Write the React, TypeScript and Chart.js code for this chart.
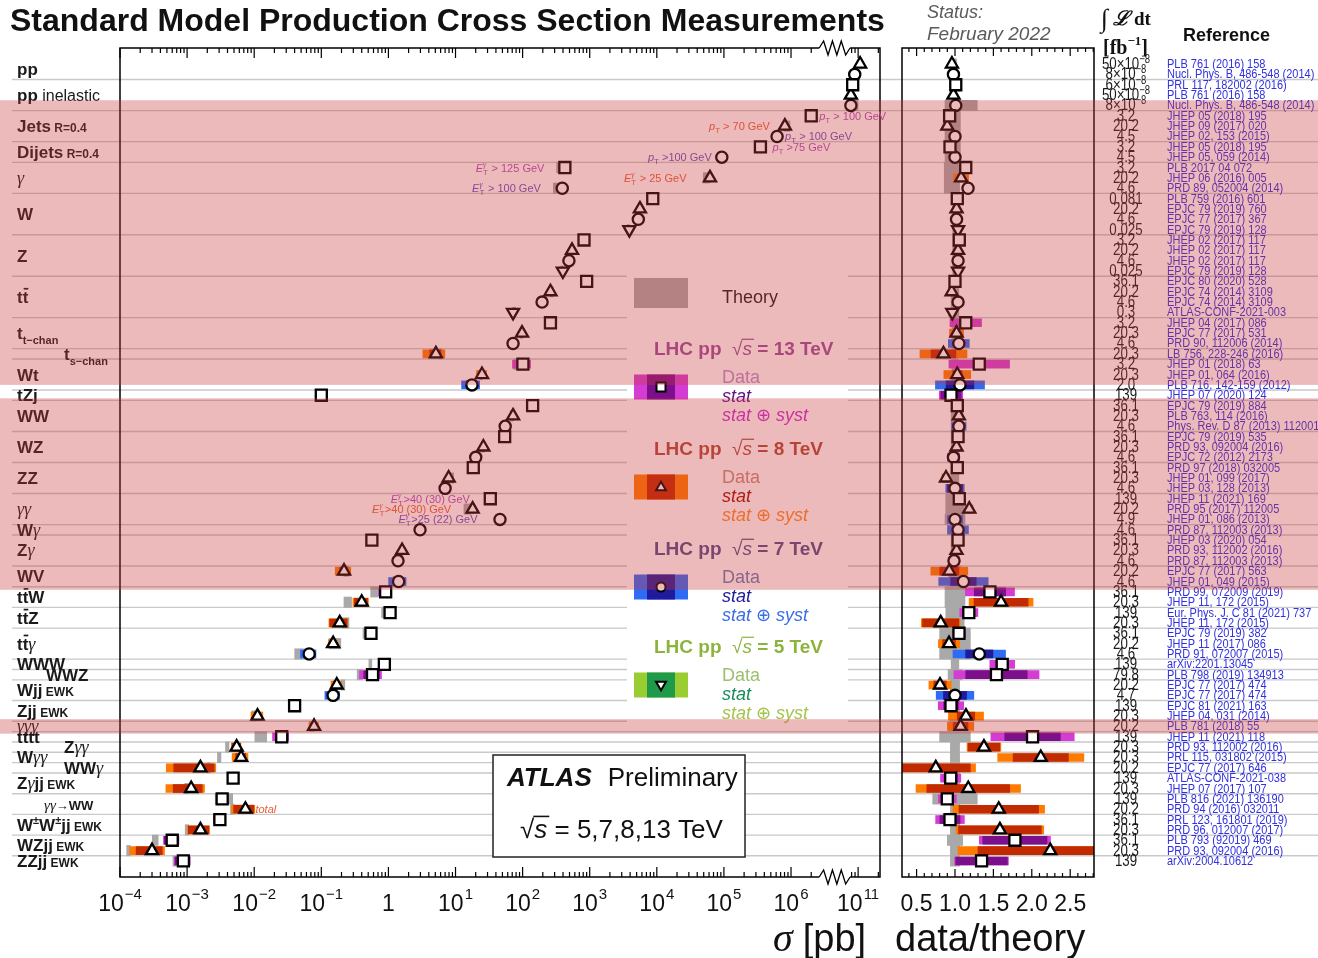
import React, { useEffect, useRef } from "react";
import { Chart, registerables } from "chart.js";

Chart.register(...registerables);

const W = 1318;
const H = 958;
const SANS = '"Liberation Sans", Arial, "DejaVu Sans", sans-serif';
const SERIF = '"Liberation Serif", "DejaVu Serif", serif';

// Plot frames on the page
const MAIN_BOX = { left: 120, right: 880, top: 48, bottom: 877 };
const RATIO_BOX = { left: 902, right: 1094, top: 48, bottom: 877 };
const ROW_MIN = -1.55;
const ROW_MAX = 78.55;
const MAIN_MIN = -4;
const MAIN_MAX = 7.326;
const RATIO_MIN = 0.31;
const RATIO_MAX = 2.81;
// decades removed by the axis break between 10^6 and 10^11
const BREAK_SHIFT = 4;
const LEGEND_AREA = { left: 627, right: 848, top: 268, bottom: 727 };

// ---------------- measurements, one entry per row, top to bottom ----------------
// centre-of-mass energy [TeV]
const energies = [
  8, 7, 13, 8, 7,
  13, 8, 7,
  13, 7,
  13, 8, 7,
  13, 8, 7, 5,
  13, 8, 7, 5,
  13, 8, 7, 5,
  13, 8, 7,
  8,
  13, 8, 7,
  13,
  13, 8, 7,
  13, 8, 7,
  13, 8, 7,
  13, 8, 7,
  7,
  13, 8, 7,
  8, 7,
  13, 8,
  13, 8,
  13, 8, 7,
  13,
  13,
  8, 7,
  13, 8,
  8,
  13,
  8,
  8,
  8,
  13, 8,
  13, 8,
  13, 8,
  13, 8,
  13,
];

// measured cross section [pb]
const crossSections = [
  1.07e11, 8.9e10, 8.3e10, 7.8e10, 7.8e10,
  2.0e6, 8.1e5, 6.2e5,
  3.5e5, 9.3e4,
  426, 6.2e4, 390,
  8700, 5600, 5300, 3900,
  822, 545, 490, 398,
  900, 260, 195, 72,
  260, 98, 72,
  5.1,
  101, 24.8, 17.6,
  0.1,
  141, 72, 55,
  54, 26, 20,
  18.4, 7.9, 7.0,
  33, 18, 46,
  2.96,
  0.567, 1.6, 1.39,
  0.218, 1.42,
  0.91, 0.4,
  1.06, 0.188,
  0.55, 0.15, 0.066,
  0.87,
  0.58,
  0.17, 0.15,
  0.04, 0.0112,
  0.078,
  0.0257,
  0.00547,
  0.00638,
  0.00158,
  0.00485, 0.00115,
  0.00333, 0.0074,
  0.00308, 0.00158,
  0.0006, 0.0003,
  0.00088,
];

// data / theory
const dataOverTheory = [
  0.96, 0.98, 1.01, 0.98, 1.01,
  0.93, 0.9, 1.0,
  0.935, 1.0,
  1.14, 1.08, 1.17,
  1.03, 1.02, 1.02, 1.04,
  1.056, 1.04, 1.04, 1.04,
  1.0, 0.957, 1.04, 0.965,
  1.14, 1.02, 1.05,
  0.85,
  1.316, 1.03, 1.065,
  0.948,
  1.03, 1.05, 1.05,
  1.04, 1.02, 0.98,
  1.03, 0.883, 1.0,
  1.056, 1.186, 1.0,
  1.04,
  1.04, 1.02, 0.987,
  0.926, 1.11,
  1.455, 1.6,
  1.18, 0.814,
  1.052, 0.922, 1.316,
  1.615,
  1.54,
  0.805, 1.0,
  0.948, 1.143,
  1.073,
  2.01,
  1.377,
  2.117,
  0.75,
  0.944, 1.173,
  0.9, 1.57,
  0.935, 1.585,
  1.78, 2.24,
  1.346,
];

// relative statistical uncertainty
const statErr = [
  0.005, 0.005, 0.005, 0.005, 0.005,
  0.01, 0.01, 0.01,
  0.01, 0.01,
  0.01, 0.02, 0.01,
  0.005, 0.005, 0.005, 0.01,
  0.005, 0.005, 0.005, 0.01,
  0.01, 0.01, 0.01, 0.02,
  0.03, 0.02, 0.03,
  0.19,
  0.04, 0.06, 0.17,
  0.14,
  0.02, 0.02, 0.03,
  0.02, 0.02, 0.04,
  0.03, 0.04, 0.1,
  0.01, 0.01, 0.02,
  0.03,
  0.01, 0.02, 0.03,
  0.135, 0.15,
  0.14, 0.22,
  0.05, 0.29,
  0.02, 0.09, 0.135,
  0.05,
  0.26,
  0.1, 0.15,
  0.1, 0.1,
  0.09,
  0.18,
  0.15,
  0.17,
  0.6,
  0.09, 0.46,
  0.09, 0.33,
  0.14, 0.34,
  0.235, 0.42,
  0.25,
];

// relative total (stat ⊕ syst) uncertainty
const totalErr = [
  0.01, 0.01, 0.02, 0.02, 0.02,
  0.06, 0.06, 0.05,
  0.06, 0.05,
  0.05, 0.09, 0.05,
  0.02, 0.02, 0.02, 0.03,
  0.025, 0.02, 0.02, 0.03,
  0.04, 0.04, 0.04, 0.05,
  0.18, 0.09, 0.13,
  0.36,
  0.3, 0.17, 0.3,
  0.16,
  0.06, 0.05, 0.09,
  0.04, 0.04, 0.08,
  0.05, 0.06, 0.12,
  0.05, 0.04, 0.1,
  0.13,
  0.04, 0.05, 0.07,
  0.26, 0.29,
  0.22, 0.26,
  0.1, 0.31,
  0.08, 0.15, 0.26,
  0.1,
  0.36,
  0.18, 0.245,
  0.175, 0.2,
  0.16,
  0.27,
  0.16,
  0.265,
  0.69,
  0.14, 0.58,
  0.13, 0.38,
  0.2, 0.36,
  0.26, 0.536,
  0.26,
];

// relative theory uncertainty, downward / upward
const theoryLo = [
  0.02, 0.02, 0.02, 0.02, 0.13,
  0.13, 0.13, 0.13,
  0.13, 0.13,
  0.14, 0.14, 0.14,
  0.03, 0.03, 0.03, 0.03,
  0.03, 0.03, 0.03, 0.03,
  0.05, 0.05, 0.05, 0.05,
  0.04, 0.04, 0.04,
  0.04,
  0.04, 0.04, 0.04,
  0.1,
  0.05, 0.05, 0.05,
  0.05, 0.05, 0.05,
  0.05, 0.05, 0.05,
  0.12, 0.12, 0.13,
  0.1,
  0.05, 0.05, 0.05,
  0.08, 0.08,
  0.13, 0.13,
  0.12, 0.12,
  0.2, 0.2, 0.2,
  0.05,
  0.09,
  0.06, 0.06,
  0.06, 0.06,
  0.08,
  0.2,
  0.06,
  0.06,
  0.06,
  0.06, 0.06,
  0.29, 0.06,
  0.06, 0.06,
  0.1, 0.06,
  0.06,
];
const theoryHi = [
  0.02, 0.02, 0.02, 0.02, 0.29,
  0.07, 0.07, 0.07,
  0.07, 0.07,
  0.06, 0.06, 0.06,
  0.03, 0.03, 0.03, 0.03,
  0.03, 0.03, 0.03, 0.03,
  0.05, 0.05, 0.05, 0.05,
  0.04, 0.04, 0.04,
  0.04,
  0.04, 0.04, 0.04,
  0.1,
  0.05, 0.05, 0.05,
  0.05, 0.05, 0.05,
  0.05, 0.05, 0.05,
  0.12, 0.12, 0.13,
  0.1,
  0.05, 0.05, 0.05,
  0.08, 0.08,
  0.13, 0.13,
  0.12, 0.12,
  0.2, 0.2, 0.2,
  0.05,
  0.09,
  0.06, 0.06,
  0.06, 0.06,
  0.08,
  0.2,
  0.06,
  0.06,
  0.06,
  0.06, 0.06,
  0.29, 0.06,
  0.06, 0.06,
  0.1, 0.06,
  0.06,
];

// integrated luminosity [fb^-1]
const lumiLabels = [
  "50×10^−8", "8×10^−8", "6×10^−8", "50×10^−8", "8×10^−8",
  "3.2", "20.2", "4.5",
  "3.2", "4.5",
  "3.2", "20.2", "4.6",
  "0.081", "20.2", "4.6", "0.025",
  "3.2", "20.2", "4.6", "0.025",
  "36.1", "20.2", "4.6", "0.3",
  "3.2", "20.3", "4.6",
  "20.3",
  "3.2", "20.3", "2.0",
  "139",
  "36.1", "20.3", "4.6",
  "36.1", "20.3", "4.6",
  "36.1", "20.3", "4.6",
  "139", "20.2", "4.9",
  "4.6",
  "36.1", "20.3", "4.6",
  "20.2", "4.6",
  "36.1", "20.3",
  "139", "20.3",
  "36.1", "20.2", "4.6",
  "139",
  "79.8",
  "20.2", "4.7",
  "139", "20.3",
  "20.2",
  "139",
  "20.3",
  "20.3",
  "20.2",
  "139", "20.3",
  "139", "20.2",
  "36.1", "20.3",
  "36.1", "20.3",
  "139",
];

const references = [
  "PLB 761 (2016) 158", "Nucl. Phys. B, 486-548 (2014)", "PRL 117, 182002 (2016)", "PLB 761 (2016) 158", "Nucl. Phys. B, 486-548 (2014)",
  "JHEP 05 (2018) 195", "JHEP 09 (2017) 020", "JHEP 02, 153 (2015)",
  "JHEP 05 (2018) 195", "JHEP 05, 059 (2014)",
  "PLB 2017 04 072", "JHEP 06 (2016) 005", "PRD 89, 052004 (2014)",
  "PLB 759 (2016) 601", "EPJC 79 (2019) 760", "EPJC 77 (2017) 367", "EPJC 79 (2019) 128",
  "JHEP 02 (2017) 117", "JHEP 02 (2017) 117", "JHEP 02 (2017) 117", "EPJC 79 (2019) 128",
  "EPJC 80 (2020) 528", "EPJC 74 (2014) 3109", "EPJC 74 (2014) 3109", "ATLAS-CONF-2021-003",
  "JHEP 04 (2017) 086", "EPJC 77 (2017) 531", "PRD 90, 112006 (2014)",
  "LB 756, 228-246 (2016)",
  "JHEP 01 (2018) 63", "JHEP 01, 064 (2016)", "PLB 716, 142-159 (2012)",
  "JHEP 07 (2020) 124",
  "EPJC 79 (2019) 884", "PLB 763, 114 (2016)", "Phys. Rev. D 87 (2013) 112001",
  "EPJC 79 (2019) 535", "PRD 93, 092004 (2016)", "EPJC 72 (2012) 2173",
  "PRD 97 (2018) 032005", "JHEP 01, 099 (2017)", "JHEP 03, 128 (2013)",
  "JHEP 11 (2021) 169", "PRD 95 (2017) 112005", "JHEP 01, 086 (2013)",
  "PRD 87, 112003 (2013)",
  "JHEP 03 (2020) 054", "PRD 93, 112002 (2016)", "PRD 87, 112003 (2013)",
  "EPJC 77 (2017) 563", "JHEP 01, 049 (2015)",
  "PRD 99, 072009 (2019)", "JHEP 11, 172 (2015)",
  "Eur. Phys. J. C 81 (2021) 737", "JHEP 11, 172 (2015)",
  "EPJC 79 (2019) 382", "JHEP 11 (2017) 086", "PRD 91, 072007 (2015)",
  "arXiv:2201.13045",
  "PLB 798 (2019) 134913",
  "EPJC 77 (2017) 474", "EPJC 77 (2017) 474",
  "EPJC 81 (2021) 163", "JHEP 04, 031 (2014)",
  "PLB 781 (2018) 55",
  "JHEP 11 (2021) 118",
  "PRD 93, 112002 (2016)",
  "PRL 115, 031802 (2015)",
  "EPJC 77 (2017) 646",
  "ATLAS-CONF-2021-038", "JHEP 07 (2017) 107",
  "PLB 816 (2021) 136190", "PRD 94 (2016) 032011",
  "PRL 123, 161801 (2019)", "PRD 96, 012007 (2017)",
  "PLB 793 (92019) 469", "PRD 93, 092004 (2016)",
  "arXiv:2004.10612",
];

// processes: first and last row of each
const processRows = [
  [0, 1], [2, 4], [5, 7], [8, 9], [10, 12], [13, 16], [17, 20], [21, 24], [25, 27], [28, 28],
  [29, 31], [32, 32], [33, 35], [36, 38], [39, 41], [42, 44], [45, 45], [46, 48], [49, 50],
  [51, 52], [53, 54], [55, 57], [58, 58], [59, 59], [60, 61], [62, 63], [64, 64], [65, 65],
  [66, 66], [67, 67], [68, 68], [69, 70], [71, 72], [73, 74], [75, 76], [77, 77],
];

// process names as styled text runs
const processLabels = [
  [["pp", "b"]],
  [["pp", "b"], [" inelastic", "r"]],
  [["Jets", "b"], [" R=0.4", "s"]],
  [["Dijets", "b"], [" R=0.4", "s"]],
  [["γ", "g"]],
  [["W", "b"]],
  [["Z", "b"]],
  [["t", "b"], ["t", "o"]],
  [["t", "b"], ["t−chan", "u"]],
  [["t", "b"], ["s−chan", "u"]],
  [["Wt", "b"]],
  [["tZj", "b"]],
  [["WW", "b"]],
  [["WZ", "b"]],
  [["ZZ", "b"]],
  [["γγ", "g"]],
  [["W", "b"], ["γ", "g"]],
  [["Z", "b"], ["γ", "g"]],
  [["WV", "b"]],
  [["t", "b"], ["t", "o"], ["W", "b"]],
  [["t", "b"], ["t", "o"], ["Z", "b"]],
  [["t", "b"], ["t", "o"], ["γ", "g"]],
  [["WWW", "b"]],
  [["WWZ", "b"]],
  [["Wjj", "b"], [" EWK", "s"]],
  [["Zjj", "b"], [" EWK", "s"]],
  [["γγγ", "g"]],
  [["tttt", "b"]],
  [["Z", "b"], ["γγ", "g"]],
  [["W", "b"], ["γγ", "g"]],
  [["WW", "b"], ["γ", "g"]],
  [["Z", "b"], ["γ", "g"], ["jj", "b"], [" EWK", "s"]],
  [["γγ", "gs"], ["→WW", "bs"]],
  [["W", "b"], ["±", "p"], ["W", "b"], ["±", "p"], ["jj", "b"], [" EWK", "s"]],
  [["WZjj", "b"], [" EWK", "s"]],
  [["ZZjj", "b"], [" EWK", "s"]],
];

// rows highlighted by shaded bands (row units)
const highlightBands = [
  [3.5, 31.0],
  [32.3, 50.8],
  [63.3, 64.7],
];

// phase-space notes written next to some measurements
const cutNotes = [
  { row: 5, side: "right", parts: [["p", "i"], ["T", "sub"], [" > 100 GeV", "n"]] },
  { row: 6, side: "left", parts: [["p", "i"], ["T", "sub"], [" > 70 GeV", "n"]] },
  { row: 7, side: "right", parts: [["p", "i"], ["T", "sub"], [" > 100 GeV", "n"]] },
  { row: 8, side: "right", parts: [["p", "i"], ["T", "sub"], [" >75 GeV", "n"]] },
  { row: 9, side: "left", parts: [["p", "i"], ["T", "sub"], [" >100 GeV", "n"]] },
  { row: 10, side: "left", parts: [["E", "i"], ["T", "subsup"], [" > 125 GeV", "n"]] },
  { row: 11, side: "left", parts: [["E", "i"], ["T", "subsup"], [" > 25 GeV", "n"]] },
  { row: 12, side: "left", parts: [["E", "i"], ["T", "subsup"], [" > 100 GeV", "n"]] },
  { row: 42, side: "left", parts: [["E", "i"], ["T", "subsup"], [">40 (30) GeV", "n"]] },
  { row: 43, side: "left", parts: [["E", "i"], ["T", "subsup"], [">40 (30) GeV", "n"]] },
  { row: 44, side: "left", parts: [["E", "i"], ["T", "subsup"], [">25 (22) GeV", "n"]] },
  { row: 72, side: "right", parts: [["total", "i"]] },
];

const mainTickPowers = [-4, -3, -2, -1, 0, 1, 2, 3, 4, 5, 6, 11];
const ratioTickLabels = ["0.5", "1.0", "1.5", "2.0", "2.5"];
const legendEnergies = [13, 8, 7, 5];

// ---------------- styles ----------------
const energyStyle: any = {
  13: { tot: "#d43cd4", stat: "#7c0f8a", point: "rect", radius: 7.8, rotation: 0, head: "#9a4ea0", dataText: "#b890d0", statText: "#66108a", totText: "#cc30d8", note: "#b050c0" },
  8: { tot: "#ff7b00", stat: "#c22a00", point: "triangle", radius: 7, rotation: 0, head: "#b04a3a", dataText: "#c88a7b", statText: "#a01000", totText: "#ff8a2a", note: "#e8603a" },
  7: { tot: "#2f6cf5", stat: "#1f1b9c", point: "circle", radius: 5.6, rotation: 0, head: "#4d4d8a", dataText: "#6c7bb9", statText: "#1c1c9a", totText: "#3a6ee8", note: "#6c4dc8" },
  5: { tot: "#9acd32", stat: "#1f9a4a", point: "triangle", radius: 7, rotation: 180, head: "#8cb43c", dataText: "#9cc070", statText: "#1a8c5a", totText: "#a4c44a", note: "#7aa030" },
};
const THEORY_GREY = "#a9a9a9";
const BAND_FILL = "rgba(200, 57, 57, 0.35)";
const LINE_GREY = "#c9c9c9";

const labelFonts: any = {
  b: { font: `bold 17px ${SANS}`, dy: 0 },
  o: { font: `bold 17px ${SANS}`, dy: 0 },
  r: { font: `16px ${SANS}`, dy: 0 },
  s: { font: `bold 12px ${SANS}`, dy: 0 },
  g: { font: `italic 18px ${SERIF}`, dy: 0 },
  u: { font: `bold 11px ${SANS}`, dy: 5 },
  p: { font: `bold 11px ${SANS}`, dy: -7 },
  gs: { font: `italic 15px ${SERIF}`, dy: 0 },
  bs: { font: `bold 13px ${SANS}`, dy: 0 },
};
const labelIndent: any = { 9: 64, 23: 46, 28: 64, 30: 64, 32: 44 };
const noteGaps = [8, 15, 8, 12, 10, 20, 23, 21, 20, 21, 22, 10];

// cross section -> horizontal position in decades, with the axis break
function axisPos(sigma: number) {
  const l = Math.log10(sigma);
  return l > 8 ? l - BREAK_SHIFT : l;
}

function buildDatasets(kind: "main" | "ratio") {
  const rows = energies.map((_, i) => i);
  const centre = (i: number) => (kind === "main" ? crossSections[i] : dataOverTheory[i]);
  const xv = (v: number) => (kind === "main" ? axisPos(v) : v);
  const theoryCentre = (i: number) => (kind === "main" ? crossSections[i] / dataOverTheory[i] : 1);
  const bar = (label: string, data: any[], colors: any, thickness: number, order: number) => ({
    type: "bar",
    label,
    data,
    backgroundColor: colors,
    borderWidth: 0,
    barThickness: thickness,
    grouped: false,
    indexAxis: "y",
    xAxisID: "x",
    yAxisID: "y",
    order,
  });
  const theory = rows.map((i) => ({
    x: [xv(theoryCentre(i) * (1 - theoryLo[i])), xv(theoryCentre(i) * (1 + theoryHi[i]))],
    y: i,
  }));
  const tot = rows.map((i) => ({ x: [xv(centre(i) * (1 - totalErr[i])), xv(centre(i) * (1 + totalErr[i]))], y: i }));
  const stat = rows.map((i) => ({ x: [xv(centre(i) * (1 - statErr[i])), xv(centre(i) * (1 + statErr[i]))], y: i }));
  const markers = legendEnergies.map((e) => {
    const st = energyStyle[e];
    return {
      type: "scatter",
      label: `${e} TeV`,
      data: rows.filter((i) => energies[i] === e).map((i) => ({ x: xv(centre(i)), y: i })),
      pointStyle: st.point,
      pointRadius: st.radius,
      pointRotation: st.rotation,
      pointBackgroundColor: "#ffffff",
      pointBorderColor: "#000000",
      pointBorderWidth: 2.3,
      showLine: false,
      xAxisID: "x",
      yAxisID: "y",
      order: 0,
    };
  });
  return [
    bar("theory", theory, THEORY_GREY, 10.4, 3),
    bar("stat ⊕ syst", tot, rows.map((i) => energyStyle[energies[i]].tot), 8, 2),
    bar("stat", stat, rows.map((i) => energyStyle[energies[i]].stat), 8, 1),
    ...markers,
  ];
}

// ---------------- drawing helpers ----------------
function drawParts(ctx: any, parts: any[], x: number, y: number) {
  let cx = x;
  for (const [t, st] of parts) {
    const f = labelFonts[st];
    ctx.font = f.font;
    ctx.fillText(t, cx, y + f.dy);
    const w = ctx.measureText(t).width;
    if (st === "o") ctx.fillRect(cx + 1, y - 15, w - 1, 1.7);
    cx += w;
  }
  return cx - x;
}

function measureNote(ctx: any, parts: any[]) {
  let w = 0;
  for (const [t, st] of parts) {
    if (st === "n") ctx.font = `11px ${SANS}`;
    else if (st === "i") ctx.font = `italic 11px ${SANS}`;
    else ctx.font = `8px ${SANS}`;
    w += ctx.measureText(t).width + (st === "subsup" ? 1 : 0);
  }
  return w;
}

function drawNote(ctx: any, parts: any[], x: number, y: number) {
  let cx = x;
  for (const [t, st] of parts) {
    if (st === "n" || st === "i") {
      ctx.font = st === "n" ? `11px ${SANS}` : `italic 11px ${SANS}`;
      ctx.fillText(t, cx, y);
      cx += ctx.measureText(t).width;
    } else if (st === "sub") {
      ctx.font = `8px ${SANS}`;
      ctx.fillText(t, cx, y + 3);
      cx += ctx.measureText(t).width;
    } else {
      ctx.font = `8px ${SANS}`;
      ctx.fillText(t, cx, y + 3);
      ctx.font = `italic 8px ${SERIF}`;
      ctx.fillText("γ", cx, y - 5);
      cx += ctx.measureText(t).width + 1;
    }
  }
}

function drawSqrtS(ctx: any, x: number, y: number, size: number, weight: string) {
  ctx.font = `${size}px ${SANS}`;
  ctx.fillText("√", x, y);
  const wr = ctx.measureText("√").width;
  ctx.font = `italic ${size}px ${SANS}`;
  ctx.fillText("s", x + wr, y);
  const ws = ctx.measureText("s").width;
  ctx.fillRect(x + wr - 1, y - size * 0.86, ws + 3, Math.max(1.2, size * 0.06));
  ctx.font = `${weight} ${size}px ${SANS}`;
  return x + wr + ws;
}

function drawLegendMarker(ctx: any, e: number, x: number, y: number, s: number) {
  ctx.save();
  ctx.fillStyle = "#fff";
  ctx.strokeStyle = "#000";
  ctx.lineWidth = 2;
  ctx.beginPath();
  if (e === 13) ctx.rect(x - s, y - s, 2 * s, 2 * s);
  else if (e === 7) ctx.arc(x, y, s, 0, Math.PI * 2);
  else {
    const d = e === 5 ? -1 : 1;
    ctx.moveTo(x, y - d * s * 1.15);
    ctx.lineTo(x + s * 1.1, y + d * s * 0.7);
    ctx.lineTo(x - s * 1.1, y + d * s * 0.7);
    ctx.closePath();
  }
  ctx.fill();
  ctx.stroke();
  ctx.restore();
}

function drawZigzag(ctx: any, x1: number, x2: number, y: number) {
  ctx.fillStyle = "#fff";
  ctx.fillRect(x1, y - 2, x2 - x1, 4);
  ctx.beginPath();
  const n = 7;
  for (let k = 0; k <= n; k++) {
    const px = x1 + ((x2 - x1) * k) / n;
    const py = k === 0 || k === n ? y : y + (k % 2 ? -7 : 7);
    if (k === 0) ctx.moveTo(px, py);
    else ctx.lineTo(px, py);
  }
  ctx.strokeStyle = "#000";
  ctx.lineWidth = 1.3;
  ctx.stroke();
}

// ---------------- main panel decorations ----------------
const mainDecor = {
  id: "mainDecor",
  beforeDatasetsDraw(chart: any) {
    const { ctx } = chart;
    const ys = chart.scales.y;
    ctx.save();
    ctx.strokeStyle = LINE_GREY;
    ctx.lineWidth = 1.4;
    for (let g = 0; g < processRows.length - 1; g++) {
      const yy = ys.getPixelForValue(processRows[g][1] + 0.5);
      ctx.beginPath();
      ctx.moveTo(12, yy);
      if (yy > LEGEND_AREA.top && yy < LEGEND_AREA.bottom) {
        ctx.lineTo(LEGEND_AREA.left, yy);
        ctx.moveTo(LEGEND_AREA.right, yy);
      }
      ctx.lineTo(W, yy);
      ctx.stroke();
    }
    ctx.restore();
  },
  afterDatasetsDraw(chart: any) {
    const { ctx, chartArea: ca } = chart;
    const xs = chart.scales.x;
    const ys = chart.scales.y;
    ctx.save();
    ctx.textBaseline = "alphabetic";
    ctx.textAlign = "left";

    // legend
    ctx.fillStyle = THEORY_GREY;
    ctx.fillRect(634, 278, 54, 30);
    ctx.fillStyle = "#1a1a1a";
    ctx.font = `18px ${SANS}`;
    ctx.fillText("Theory", 722, 303);
    const headY = [348, 448, 548, 646];
    legendEnergies.forEach((e, k) => {
      const st = energyStyle[e];
      const hy = headY[k];
      const base = hy + 7;
      ctx.fillStyle = st.head;
      ctx.font = `bold 19px ${SANS}`;
      ctx.fillText("LHC pp  ", 654, base);
      let x = 654 + ctx.measureText("LHC pp  ").width;
      x = drawSqrtS(ctx, x, base, 19, "bold");
      ctx.font = `bold 19px ${SANS}`;
      ctx.fillText(` = ${e} TeV`, x, base);
      const by = hy + 39;
      ctx.fillStyle = st.tot;
      ctx.fillRect(634, by - 12.5, 54, 25);
      ctx.fillStyle = st.stat;
      ctx.fillRect(647, by - 12.5, 28, 25);
      drawLegendMarker(ctx, e, 661, by, 4.5);
      ctx.font = `18px ${SANS}`;
      ctx.fillStyle = st.dataText;
      ctx.fillText("Data", 722, hy + 35);
      ctx.font = `italic 18px ${SANS}`;
      ctx.fillStyle = st.statText;
      ctx.fillText("stat", 722, hy + 54);
      ctx.fillStyle = st.totText;
      ctx.fillText("stat ⊕ syst", 722, hy + 73);
    });

    // ATLAS label box
    ctx.fillStyle = "#fff";
    ctx.fillRect(493, 755, 252, 102);
    ctx.strokeStyle = "#222";
    ctx.lineWidth = 1.5;
    ctx.strokeRect(493, 755, 252, 102);
    ctx.fillStyle = "#111";
    ctx.font = `italic bold 26px ${SANS}`;
    ctx.fillText("ATLAS", 507, 786);
    const aw = ctx.measureText("ATLAS").width;
    ctx.font = `26px ${SANS}`;
    ctx.fillText("Preliminary", 507 + aw + 16, 786);
    const sx = drawSqrtS(ctx, 520, 838, 26, "");
    ctx.font = `26px ${SANS}`;
    ctx.fillText(" = 5,7,8,13 TeV", sx, 838);

    // frame, ticks and axis break
    ctx.strokeStyle = "#000";
    ctx.lineWidth = 1.5;
    ctx.strokeRect(ca.left, ca.top, ca.right - ca.left, ca.bottom - ca.top);
    const majors = mainTickPowers.map((p) => (p > 8 ? p - BREAK_SHIFT : p));
    const minors: number[] = [];
    for (let d = -4; d <= 5; d++) for (let k = 2; k <= 9; k++) minors.push(d + Math.log10(k));
    minors.push(6 + Math.log10(2), 6 + Math.log10(8), 6 + Math.log10(9), 7 + Math.log10(2));
    ctx.lineWidth = 1.2;
    ctx.beginPath();
    const tick = (v: number, len: number) => {
      const px = xs.getPixelForValue(v);
      ctx.moveTo(px, ca.bottom);
      ctx.lineTo(px, ca.bottom - len);
      ctx.moveTo(px, ca.top);
      ctx.lineTo(px, ca.top + len);
    };
    majors.forEach((v) => tick(v, 10));
    minors.forEach((v) => tick(v, 5));
    ctx.stroke();
    const b1 = xs.getPixelForValue(6.42);
    const b2 = xs.getPixelForValue(6.88);
    drawZigzag(ctx, b1, b2, ca.top);
    drawZigzag(ctx, b1, b2, ca.bottom);

    // tick labels
    ctx.fillStyle = "#111";
    mainTickPowers.forEach((p, k) => {
      const px = xs.getPixelForValue(majors[k]);
      const base = p === 0 ? "1" : "10";
      const exp = p === 0 ? "" : p < 0 ? `−${-p}` : `${p}`;
      ctx.font = `23px ${SANS}`;
      const wb = ctx.measureText(base).width;
      ctx.font = `15px ${SANS}`;
      const we = exp ? ctx.measureText(exp).width + 1 : 0;
      const x0 = px - (wb + we) / 2;
      ctx.font = `23px ${SANS}`;
      ctx.fillText(base, x0, 911);
      if (exp) {
        ctx.font = `15px ${SANS}`;
        ctx.fillText(exp, x0 + wb + 1, 899);
      }
    });
    ctx.font = `italic 40px ${SERIF}`;
    ctx.fillText("σ", 773, 951);
    const sw = ctx.measureText("σ").width;
    ctx.font = `38px ${SANS}`;
    ctx.fillText("[pb]", 773 + sw + 10, 951);

    // title
    ctx.font = `bold 32px ${SANS}`;
    const title = "Standard Model Production Cross Section Measurements";
    const tw = ctx.measureText(title).width;
    ctx.font = `bold ${(32 * 875) / tw}px ${SANS}`;
    ctx.fillText(title, 10, 31);

    // process names
    ctx.fillStyle = "#1a1a1a";
    processLabels.forEach((parts, g) => {
      const [r0, r1] = processRows[g];
      const yc = ys.getPixelForValue((r0 + r1) / 2);
      drawParts(ctx, parts, labelIndent[g] ?? 17, yc + 6);
    });

    // phase-space notes
    cutNotes.forEach((n, k) => {
      const i = n.row;
      const px = xs.getPixelForValue(axisPos(crossSections[i]));
      const py = ys.getPixelForValue(i) + 4;
      ctx.fillStyle = energyStyle[energies[i]].note;
      const w = measureNote(ctx, n.parts);
      const x0 = n.side === "right" ? px + noteGaps[k] : px - noteGaps[k] - w;
      drawNote(ctx, n.parts, x0, py);
    });
    ctx.restore();
  },
};

// ---------------- ratio panel, table and highlight bands ----------------
const ratioDecor = {
  id: "ratioDecor",
  afterDraw(chart: any) {
    const { ctx, chartArea: ca } = chart;
    const xs = chart.scales.x;
    const ys = chart.scales.y;
    ctx.save();
    ctx.textBaseline = "alphabetic";
    ctx.textAlign = "left";

    ctx.strokeStyle = "#000";
    ctx.lineWidth = 1.5;
    ctx.strokeRect(ca.left, ca.top, ca.right - ca.left, ca.bottom - ca.top);
    ctx.lineWidth = 1.2;
    ctx.beginPath();
    for (let k = 4; k <= 28; k++) {
      const px = xs.getPixelForValue(k / 10);
      const len = k % 5 === 0 ? 8 : 4;
      ctx.moveTo(px, ca.bottom);
      ctx.lineTo(px, ca.bottom - len);
      ctx.moveTo(px, ca.top);
      ctx.lineTo(px, ca.top + len);
    }
    ctx.stroke();

    ctx.fillStyle = "#111";
    ctx.font = `23px ${SANS}`;
    ctx.textAlign = "center";
    ratioTickLabels.forEach((t) => ctx.fillText(t, xs.getPixelForValue(parseFloat(t)), 911));
    ctx.textAlign = "left";
    ctx.font = `38px ${SANS}`;
    ctx.fillText("data/theory", 895, 951);

    // status
    ctx.fillStyle = "#5a5a5a";
    ctx.font = `italic 18px ${SANS}`;
    ctx.fillText("Status:", 927, 18);
    ctx.font = `italic 19px ${SANS}`;
    ctx.fillText("February 2022", 927, 40);

    // table headers
    ctx.fillStyle = "#111";
    ctx.font = `italic 26px ${SERIF}`;
    ctx.fillText("∫", 1101, 27);
    ctx.font = `italic bold 20px ${SERIF}`;
    ctx.fillText("ℒ", 1113, 25);
    ctx.font = `bold 19px ${SERIF}`;
    ctx.fillText("dt", 1134, 25);
    ctx.font = `bold 20px ${SERIF}`;
    ctx.fillText("[fb", 1103, 54);
    const fw = ctx.measureText("[fb").width;
    ctx.font = `bold 13px ${SERIF}`;
    ctx.fillText("−1", 1103 + fw, 45);
    const ew = ctx.measureText("−1").width;
    ctx.font = `bold 20px ${SERIF}`;
    ctx.fillText("]", 1103 + fw + ew, 54);
    ctx.font = `bold 18px ${SANS}`;
    ctx.fillText("Reference", 1183, 41);

    // luminosity column (tall, narrow figures)
    ctx.fillStyle = "#1a1a1a";
    lumiLabels.forEach((t, i) => {
      const y = ys.getPixelForValue(i) + 5;
      const [base, exp] = t.split("^");
      ctx.font = `14px ${SANS}`;
      const wb = ctx.measureText(base).width * 0.95;
      ctx.font = `10px ${SANS}`;
      const we = exp ? ctx.measureText(exp).width * 0.95 : 0;
      const x0 = 1126 - (wb + we) / 2;
      ctx.save();
      ctx.translate(x0, y);
      ctx.scale(0.95, 1.22);
      ctx.font = `14px ${SANS}`;
      ctx.fillText(base, 0, 0);
      if (exp) {
        ctx.font = `10px ${SANS}`;
        ctx.fillText(exp, wb / 0.95, -5);
      }
      ctx.restore();
    });

    // reference column
    ctx.fillStyle = "#3030e0";
    ctx.font = `11px ${SANS}`;
    references.forEach((t, i) => {
      ctx.save();
      ctx.translate(1167, ys.getPixelForValue(i) + 4);
      ctx.scale(1, 1.12);
      ctx.fillText(t, 0, 0);
      ctx.restore();
    });

    // highlight bands across the whole figure
    ctx.fillStyle = BAND_FILL;
    highlightBands.forEach(([a, b]) => {
      const y1 = ys.getPixelForValue(a);
      const y2 = ys.getPixelForValue(b);
      ctx.fillRect(0, y1, W, y2 - y1);
    });
    ctx.restore();
  },
};

function makeConfig(kind: "main" | "ratio") {
  const box = kind === "main" ? MAIN_BOX : RATIO_BOX;
  return {
    type: "scatter",
    data: { datasets: buildDatasets(kind) },
    options: {
      animation: false,
      responsive: false,
      devicePixelRatio: 1,
      events: [],
      layout: { padding: { left: box.left, right: W - box.right, top: box.top, bottom: H - box.bottom } },
      plugins: { legend: { display: false }, tooltip: { enabled: false }, title: { display: false } },
      scales: {
        x: {
          type: "linear",
          min: kind === "main" ? MAIN_MIN : RATIO_MIN,
          max: kind === "main" ? MAIN_MAX : RATIO_MAX,
          offset: false,
          display: false,
        },
        y: {
          type: "linear",
          min: ROW_MIN,
          max: ROW_MAX,
          reverse: true,
          offset: false,
          grid: { offset: false },
          display: false,
        },
      },
    },
    plugins: [kind === "main" ? mainDecor : ratioDecor],
  };
}

export default function App() {
  const mainRef = useRef<HTMLCanvasElement>(null);
  const ratioRef = useRef<HTMLCanvasElement>(null);
  useEffect(() => {
    const main = new Chart(mainRef.current as any, makeConfig("main") as any);
    const ratio = new Chart(ratioRef.current as any, makeConfig("ratio") as any);
    return () => {
      main.destroy();
      ratio.destroy();
    };
  }, []);
  const canvasStyle: any = { position: "absolute", left: 0, top: 0, width: W, height: H };
  return (
    <div style={{ position: "absolute", left: 0, top: 0, width: W, height: H, background: "#fff", overflow: "hidden" }}>
      <canvas ref={mainRef} width={W} height={H} style={canvasStyle} />
      <canvas ref={ratioRef} width={W} height={H} style={canvasStyle} />
    </div>
  );
}
